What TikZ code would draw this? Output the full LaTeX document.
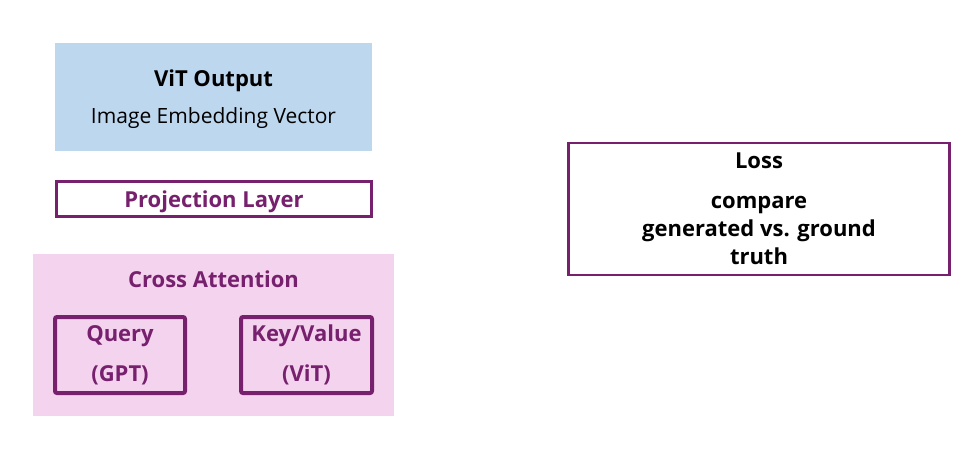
\documentclass[tikz,border=0pt]{standalone}
\usepackage{fontspec}
\setmainfont{Open Sans}
\usetikzlibrary{positioning}
\definecolor{plum}{HTML}{76206E}
\definecolor{vitblue}{HTML}{BDD7EE}
\definecolor{xpink}{HTML}{F4D3EF}

\begin{document}
\begin{tikzpicture}[x=1pt, y=-1pt,
    box/.style={draw=plum, line width=2.5pt, inner sep=0pt, align=center},
    txt/.style={font=\fontsize{22}{28}\selectfont\bfseries, align=center},
    subtxt/.style={font=\fontsize{21}{24}\selectfont, align=center}
  ]
\useasboundingbox (0,0) rectangle (974,458);

% ViT output block
\node (vit) [fill=vitblue, minimum width=317pt, minimum height=108pt] at (213.5,97) {};
\node (vit-t) [txt] at (213.5,81) {ViT Output};
\node (vit-s) [subtxt] at (213.5,118) {Image Embedding Vector};

% Projection layer
\node (proj) [box, txt, text=plum, text depth=0pt, minimum width=315pt, minimum height=35pt] at (214,199) {Projection Layer};

% Cross attention block
\node (xattn) [fill=xpink, minimum width=361pt, minimum height=162pt] at (213.5,335) {};
\node (xattn-t) [txt, text=plum, below=13pt of xattn.north] {Cross Attention};
\node (query) [box, txt, text=plum, line width=4pt, rounded corners=2pt, minimum width=130pt, minimum height=76pt] at (120,355) {Query\\[12pt](GPT)};
\node (kv) [box, txt, text=plum, line width=4pt, rounded corners=2pt, minimum width=131pt, minimum height=76pt] at (306.5,355) {Key/Value\\[12pt](ViT)};

% Loss block
\node (loss) [box, txt, minimum width=381pt, minimum height=132pt] at (759,209) {Loss\\[12pt]compare\\generated vs. ground\\truth};

\end{tikzpicture}
\end{document}
